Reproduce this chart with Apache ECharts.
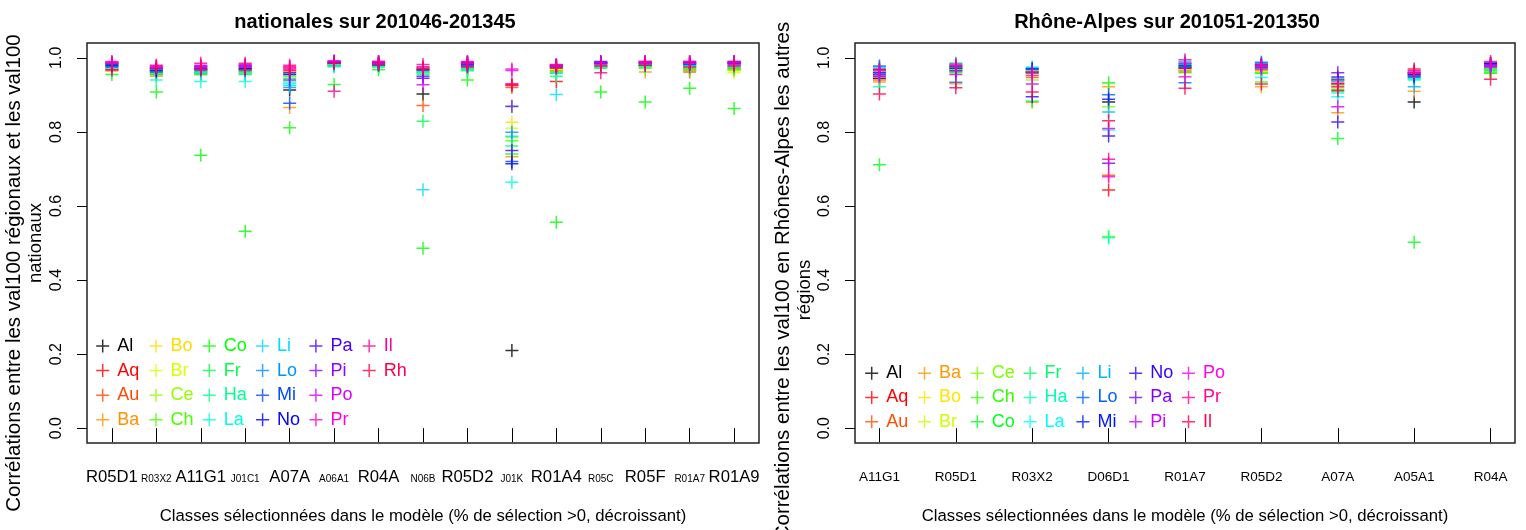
<!DOCTYPE html>
<html><head><meta charset="utf-8">
<script src="https://cdn.jsdelivr.net/npm/echarts@6/dist/echarts.min.js"></script>
<style>html,body{margin:0;padding:0;background:#fff}#c{width:1526px;height:530px}</style>
</head><body><div id="c"></div>
<script>
// ---------- DATA ----------
const catsL = ['R05D1','R03X2','A11G1','J01C1','A07A','A06A1','R04A','N06B','R05D2','J01K','R01A4','R05C','R05F','R01A7','R01A9'];
const catsR = ['A11G1','R05D1','R03X2','D06D1','R01A7','R05D2','A07A','A05A1','R04A'];
const yTicks = [0, 0.2, 0.4, 0.6, 0.8, 1.0];
const regionsL = ['Al','Aq','Au','Ba','Bo','Br','Ce','Ch','Co','Fr','Ha','La','Li','Lo','Mi','No','Pa','Pi','Po','Pr','Il','Rh'];
const regionsR = ['Al','Aq','Au','Ba','Bo','Br','Ce','Ch','Co','Fr','Ha','La','Li','Lo','Mi','No','Pa','Pi','Po','Pr','Il'];
const titleL = 'nationales sur 201046-201345';
const titleR = 'Rhône-Alpes sur 201051-201350';
const yNameL = ['Corrélations entre les val100 régionaux et les val100', 'nationaux'];
const yNameR = ['Corrélations entre les val100 en Rhônes-Alpes les autres', 'régions'];
const xName = 'Classes sélectionnées dans le modèle (% de sélection >0, décroissant)';

// left panel: correlation per region, one value per class of catsL
const L_Al = [.975,.965,.970,.978,.913,.980,.985,.902,.980,.210,.975,.985,.980,.982,.985];
const L_Aq = [.970,.970,.965,.970,.975,.985,.980,.975,.985,.927,.936,.980,.985,.975,.975];
const L_Au = [.965,.955,.960,.965,.970,.982,.982,.871,.975,.920,.965,.975,.978,.962,.970];
const L_Ba = [.968,.950,.955,.960,.866,.978,.978,.960,.970,.733,.970,.978,.962,.965,.968];
const L_Bo = [.972,.958,.958,.955,.965,.985,.985,.965,.978,.826,.960,.982,.975,.970,.965];
const L_Br = [.978,.962,.962,.962,.960,.988,.980,.970,.980,.810,.968,.985,.980,.975,.960];
const L_Ce = [.980,.960,.968,.958,.955,.982,.983,.958,.975,.785,.972,.980,.978,.972,.966];
const L_Ch = [.983,.965,.960,.963,.950,.980,.975,.962,.970,.776,.963,.975,.972,.968,.970];
const L_Co = [.955,.908,.737,.532,.811,.928,.968,.486,.940,.740,.556,.908,.881,.918,.863];
const L_Fr = [.985,.955,.955,.968,.945,.978,.978,.829,.965,.762,.958,.972,.975,.970,.972];
const L_Ha = [.978,.958,.962,.960,.935,.985,.980,.955,.972,.868,.950,.978,.980,.975,.975];
const L_La = [.975,.940,.936,.936,.930,.975,.975,.960,.968,.664,.960,.975,.978,.978,.978];
const L_Li = [.970,.968,.958,.955,.925,.980,.982,.644,.975,.788,.901,.980,.982,.980,.980];
const L_Lo = [.982,.970,.965,.965,.920,.985,.985,.965,.980,.799,.975,.985,.985,.985,.982];
const L_Mi = [.976,.962,.970,.970,.877,.988,.980,.970,.985,.720,.979,.988,.980,.982,.985];
const L_No = [.980,.966,.975,.972,.955,.990,.984,.968,.988,.714,.980,.986,.988,.986,.988];
const L_Pa = [.984,.972,.978,.975,.960,.985,.988,.945,.982,.750,.978,.990,.985,.988,.990];
const L_Pi = [.987,.975,.972,.980,.940,.988,.986,.950,.978,.869,.975,.985,.990,.985,.985];
const L_Po = [.988,.978,.980,.982,.970,.990,.990,.927,.985,.966,.982,.988,.988,.990,.988];
const L_Pr = [.985,.975,.975,.977,.975,.992,.985,.975,.990,.970,.978,.982,.985,.985,.982];
const L_Il = [.990,.980,.985,.985,.980,.910,.990,.982,.988,.930,.980,.960,.990,.990,.990];
const L_Rh = [.968,.972,.968,.968,.965,.985,.982,.970,.975,.925,.972,.978,.980,.975,.978];

// right panel: correlation per region, one value per class of catsR
const R_Al = [.945,.975,.964,.881,.975,.975,.930,.881,.985];
const R_Aq = [.950,.970,.960,.643,.970,.970,.940,.955,.975];
const R_Au = [.940,.965,.947,.683,.965,.965,.935,.960,.970];
const R_Ba = [.935,.930,.880,.922,.960,.922,.852,.910,.965];
const R_Bo = [.960,.985,.965,.930,.968,.962,.945,.968,.968];
const R_Br = [.965,.980,.955,.518,.975,.968,.920,.965,.962];
const R_Ce = [.970,.968,.940,.868,.980,.960,.925,.958,.960];
const R_Ch = [.962,.960,.958,.516,.985,.935,.915,.950,.972];
const R_Co = [.711,.962,.883,-.045,.962,.958,.782,.502,.958];
const R_Fr = [.955,.970,.962,.933,.978,.972,.910,.945,.965];
const R_Ha = [.922,.975,.970,.805,.982,.978,.905,.940,.968];
const R_La = [.958,.980,.975,.514,.985,.947,.895,.942,.975];
const R_Li = [.975,.985,.968,.854,.990,.985,.938,.922,.978];
const R_Lo = [.978,.934,.972,.900,.933,.988,.942,.952,.980];
const R_Mi = [.968,.978,.970,.888,.980,.982,.948,.948,.982];
const R_No = [.960,.972,.895,.789,.975,.980,.827,.955,.985];
const R_Pa = [.955,.965,.960,.715,.972,.975,.960,.960,.978];
const R_Pi = [.950,.955,.929,.809,.985,.970,.868,.965,.975];
const R_Po = [.965,.982,.952,.679,.949,.978,.930,.962,.980];
const R_Pr = [.970,.978,.962,.726,.995,.982,.922,.958,.990];
const R_Il = [.902,.919,.908,.830,.918,.929,.912,.970,.942];

const valuesL = [L_Al,L_Aq,L_Au,L_Ba,L_Bo,L_Br,L_Ce,L_Ch,L_Co,L_Fr,L_Ha,L_La,L_Li,L_Lo,L_Mi,L_No,L_Pa,L_Pi,L_Po,L_Pr,L_Il,L_Rh];
const valuesR = [R_Al,R_Aq,R_Au,R_Ba,R_Bo,R_Br,R_Ce,R_Ch,R_Co,R_Fr,R_Ha,R_La,R_Li,R_Lo,R_Mi,R_No,R_Pa,R_Pi,R_Po,R_Pr,R_Il];

// ---------- STYLE ----------
function rainbow(n) {
  const out = [];
  for (let i = 0; i < n; i++) {
    const h = (i / n) * 6, k = Math.floor(h), f = h - k;
    let r, g, b;
    switch (k % 6) {
      case 0: r = 1; g = f; b = 0; break;
      case 1: r = 1 - f; g = 1; b = 0; break;
      case 2: r = 0; g = 1; b = f; break;
      case 3: r = 0; g = 1 - f; b = 1; break;
      case 4: r = f; g = 0; b = 1; break;
      default: r = 1; g = 0; b = 1 - f;
    }
    const hx = v => Math.round(v * 255).toString(16).padStart(2, '0');
    out.push('#' + hx(r) + hx(g) + hx(b));
  }
  return out;
}
const colorsL = ['#000000'].concat(rainbow(21));
const colorsR = ['#000000'].concat(rainbow(20));
const PLUS = 'path://M5.75,0H7.25V5.75H13V7.25H7.25V13H5.75V7.25H0V5.75H5.75Z';
const SANS = '"Liberation Sans", Arial, sans-serif';
const SUF = '\u2009R';

const gL = {left: 87, top: 43, width: 672, height: 400};
const gR = {left: 855, top: 43, width: 660, height: 400};

function xAxisCfg(idx, cats, big, small, margin) {
  const vals = cats.map((c, i) => i + 1);
  const ext = (cats.length - 1) * 0.04;
  return {
    type: 'value', gridIndex: idx, min: 1 - ext, max: cats.length + ext,
    splitLine: {show: false}, axisLine: {show: false},
    axisTick: {show: true, length: 14, customValues: vals, lineStyle: {color: '#000', width: 1}},
    axisLabel: {
      customValues: vals, margin: margin, color: '#000', fontFamily: SANS,
      showMinLabel: true, showMaxLabel: true, hideOverlap: false,
      formatter: v => {
        const i = Math.round(v) - 1;
        return '{' + (i % 2 === 0 ? 'b' : 's') + '|' + cats[i] + '}';
      },
      rich: {
        b: {fontSize: big, fontFamily: SANS, color: '#000', lineHeight: big + 1},
        s: {fontSize: small, fontFamily: SANS, color: '#000', lineHeight: big + 1,
            padding: [big === small ? 0 : 2, 0, 0, 0]}
      }
    },
    name: xName, nameLocation: 'middle', nameGap: 65,
    nameTextStyle: {fontSize: 16.7, fontFamily: SANS, color: '#000'}
  };
}
function yAxisCfg(idx, lines, gap, pad1, pad2) {
  return {
    type: 'value', gridIndex: idx, min: -0.04, max: 1.04,
    splitLine: {show: false}, axisLine: {show: false},
    axisTick: {show: true, length: 10, customValues: yTicks, lineStyle: {color: '#000', width: 1}},
    axisLabel: {customValues: yTicks, rotate: 90, margin: 22, color: '#000', fontSize: 16, fontFamily: SANS,
      formatter: v => v.toFixed(1)},
    name: '{a|' + lines[0] + '}\n{b|' + lines[1] + '}',
    nameLocation: 'middle', nameRotate: 90, nameGap: gap,
    nameTextStyle: {
      fontSize: 20, lineHeight: 22, fontFamily: SANS, color: '#000',
      rich: {
        a: {fontSize: 20.5, lineHeight: 22, fontFamily: SANS, color: '#000', padding: [0, pad1, 0, 0]},
        b: {fontSize: 18.5, lineHeight: 22, fontFamily: SANS, color: '#000', padding: [0, pad2, 0, 0]}
      }
    }
  };
}

const series = [];
regionsL.forEach((r, k) => {
  series.push({
    type: 'scatter', name: r, xAxisIndex: 0, yAxisIndex: 0, symbol: PLUS, symbolSize: 13,
    itemStyle: {color: colorsL[k]}, silent: true, clip: true,
    data: catsL.map((c, i) => [i + 1, valuesL[k][i]])
  });
});
regionsR.forEach((r, k) => {
  series.push({
    type: 'scatter', name: r + SUF, xAxisIndex: 1, yAxisIndex: 1, symbol: PLUS, symbolSize: 13,
    itemStyle: {color: colorsR[k]}, silent: true, clip: true,
    data: catsR.map((c, i) => [i + 1, valuesR[k][i]])
  });
});

function legends(names, colors, suffix, x0, dx, y0, rowH, perCol) {
  const out = [];
  for (let c = 0; c * perCol < names.length; c++) {
    const items = [];
    for (let j = c * perCol; j < Math.min(names.length, (c + 1) * perCol); j++) {
      items.push({name: names[j] + suffix, textStyle: {color: colors[j]}});
    }
    out.push({
      orient: 'vertical', left: x0 + c * dx - 6.5, top: y0 - rowH / 2, padding: 0, itemGap: 0,
      itemWidth: 13, itemHeight: 13, icon: PLUS, selectedMode: false,
      textStyle: {fontSize: 18, fontFamily: SANS, lineHeight: rowH, padding: [0, 0, 0, 3]},
      formatter: n => n.replace(SUF, ''),
      data: items
    });
  }
  return out;
}

const gridBase = {show: true, borderColor: '#222', borderWidth: 1.5, containLabel: false, outerBoundsMode: 'none'};
const option = {
  animation: false,
  backgroundColor: '#fff',
  grid: [Object.assign({}, gridBase, gL), Object.assign({}, gridBase, gR)],
  xAxis: [xAxisCfg(0, catsL, 16.7, 10, 26), xAxisCfg(1, catsR, 13.5, 13.5, 27)],
  yAxis: [yAxisCfg(0, yNameL, 40, 60, 0), yAxisCfg(1, yNameR, 37, 76, 94)],
  legend: legends(regionsL, colorsL, '', 102.7, 53.3, 346, 24.6, 4)
    .concat(legends(regionsR, colorsR, SUF, 871.7, 52.8, 373.3, 24.2, 3)),
  graphic: [
    {type: 'text', x: 375, y: 22, style: {text: titleL, fontSize: 20, fontWeight: 'bold', fontFamily: SANS, fill: '#000', align: 'center', verticalAlign: 'middle'}},
    {type: 'text', x: 1167, y: 22, style: {text: titleR, fontSize: 20, fontWeight: 'bold', fontFamily: SANS, fill: '#000', align: 'center', verticalAlign: 'middle'}}
  ],
  series: series
};
const chart = echarts.init(document.getElementById('c'), null, {renderer: 'canvas'});
chart.setOption(option);
</script>
</body></html>
